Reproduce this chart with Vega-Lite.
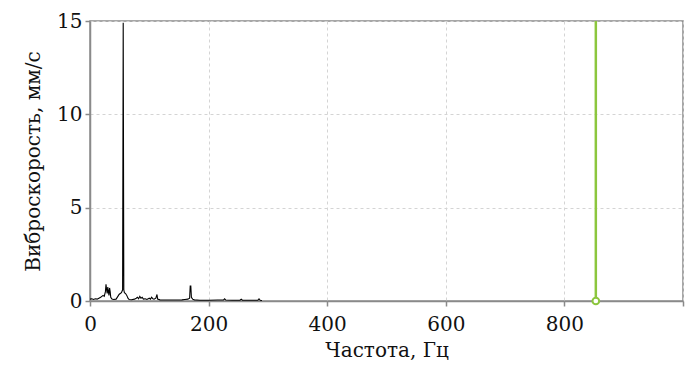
{
  "$schema": "https://vega.github.io/schema/vega-lite/v6.json",
  "autosize": "none",
  "width": 593,
  "height": 280,
  "padding": {"left": 90, "top": 21, "right": 8, "bottom": 66},
  "background": "white",
  "datasets": {
    "spectrum": [
      {"f": 0, "v": 0.1}, {"f": 3, "v": 0.12}, {"f": 6, "v": 0.08}, {"f": 9, "v": 0.12}, {"f": 12, "v": 0.1},
      {"f": 15, "v": 0.15}, {"f": 18, "v": 0.2}, {"f": 20, "v": 0.25}, {"f": 22, "v": 0.3}, {"f": 24, "v": 0.25},
      {"f": 26, "v": 0.5}, {"f": 27, "v": 0.9}, {"f": 28, "v": 0.6}, {"f": 29, "v": 0.4}, {"f": 30, "v": 0.75},
      {"f": 31, "v": 0.5}, {"f": 32, "v": 0.3}, {"f": 33, "v": 0.7}, {"f": 34, "v": 0.5}, {"f": 35, "v": 0.2},
      {"f": 37, "v": 0.1}, {"f": 40, "v": 0.08}, {"f": 44, "v": 0.1}, {"f": 47, "v": 0.25}, {"f": 49, "v": 0.35},
      {"f": 51, "v": 0.4}, {"f": 53, "v": 0.45}, {"f": 55, "v": 0.6}, {"f": 56, "v": 14.9}, {"f": 57, "v": 0.6},
      {"f": 58, "v": 0.45}, {"f": 60, "v": 0.4}, {"f": 62, "v": 0.3}, {"f": 64, "v": 0.15}, {"f": 66, "v": 0.08},
      {"f": 70, "v": 0.07}, {"f": 75, "v": 0.1}, {"f": 78, "v": 0.15}, {"f": 80, "v": 0.2}, {"f": 82, "v": 0.12},
      {"f": 84, "v": 0.25}, {"f": 86, "v": 0.15}, {"f": 88, "v": 0.2}, {"f": 90, "v": 0.1}, {"f": 93, "v": 0.12},
      {"f": 96, "v": 0.08}, {"f": 100, "v": 0.15}, {"f": 102, "v": 0.1}, {"f": 104, "v": 0.2}, {"f": 106, "v": 0.12},
      {"f": 108, "v": 0.1}, {"f": 111, "v": 0.15}, {"f": 113, "v": 0.35}, {"f": 114, "v": 0.1}, {"f": 118, "v": 0.06},
      {"f": 125, "v": 0.05}, {"f": 135, "v": 0.05}, {"f": 145, "v": 0.05}, {"f": 155, "v": 0.06}, {"f": 160, "v": 0.08},
      {"f": 165, "v": 0.1}, {"f": 168, "v": 0.15}, {"f": 169, "v": 0.8}, {"f": 170, "v": 0.8}, {"f": 171, "v": 0.2},
      {"f": 173, "v": 0.1}, {"f": 176, "v": 0.06}, {"f": 185, "v": 0.04}, {"f": 200, "v": 0.04}, {"f": 215, "v": 0.05},
      {"f": 225, "v": 0.05}, {"f": 227, "v": 0.12}, {"f": 229, "v": 0.05}, {"f": 240, "v": 0.04}, {"f": 253, "v": 0.04},
      {"f": 255, "v": 0.1}, {"f": 257, "v": 0.04}, {"f": 270, "v": 0.04}, {"f": 283, "v": 0.04}, {"f": 285, "v": 0.12},
      {"f": 287, "v": 0.04}, {"f": 290, "v": 0.03}
    ],
    "marker": [{"f": 853, "v0": 0, "v1": 15}]
  },
  "layer": [
    {
      "data": {"name": "spectrum"},
      "mark": {"type": "line", "color": "#000000", "strokeWidth": 1.1, "clip": true},
      "encoding": {
        "x": {"field": "f", "type": "quantitative", "scale": {"domain": [0, 1000], "nice": false},
          "axis": {"title": "Частота, Гц", "values": [0, 200, 400, 600, 800, 1000], "labelExpr": "datum.value == 1000 ? '' : datum.label",
            "labelFlush": false, "labelFont": "DejaVu Serif", "labelFontSize": 20, "titleFont": "DejaVu Serif", "titleFontSize": 20, "labelPadding": 8, "titlePadding": 6}},
        "y": {"field": "v", "type": "quantitative", "scale": {"domain": [0, 15], "nice": false},
          "axis": {"title": "Виброскорость, мм/с", "values": [0, 5, 10, 15],
            "labelFont": "DejaVu Serif", "labelFontSize": 20, "titleFont": "DejaVu Serif", "titleFontSize": 20, "labelPadding": 3, "titlePadding": 13}}
      }
    },
    {
      "data": {"name": "marker"},
      "mark": {"type": "rule", "color": "#8cc63e", "strokeWidth": 2.5},
      "encoding": {
        "x": {"field": "f", "type": "quantitative"},
        "y": {"field": "v0", "type": "quantitative"},
        "y2": {"field": "v1"}
      }
    },
    {
      "data": {"name": "marker"},
      "mark": {"type": "point", "shape": "circle", "filled": true, "fill": "white", "stroke": "#8cc63e", "strokeWidth": 2, "size": 45, "opacity": 1},
      "encoding": {
        "x": {"field": "f", "type": "quantitative"},
        "y": {"field": "v0", "type": "quantitative"}
      }
    }
  ],
  "config": {
    "view": {"stroke": "#8a8a8a", "strokeWidth": 1.5},
    "axis": {
      "titleFontWeight": "normal",
      "labelColor": "#111111",
      "titleColor": "#111111",
      "domainColor": "#8a8a8a",
      "domainWidth": 1.5,
      "tickColor": "#8a8a8a",
      "tickWidth": 1.5,
      "tickSize": 5,
      "gridColor": "#d4d4d4",
      "gridDash": [3, 3],
      "gridWidth": 1
    }
  }
}
